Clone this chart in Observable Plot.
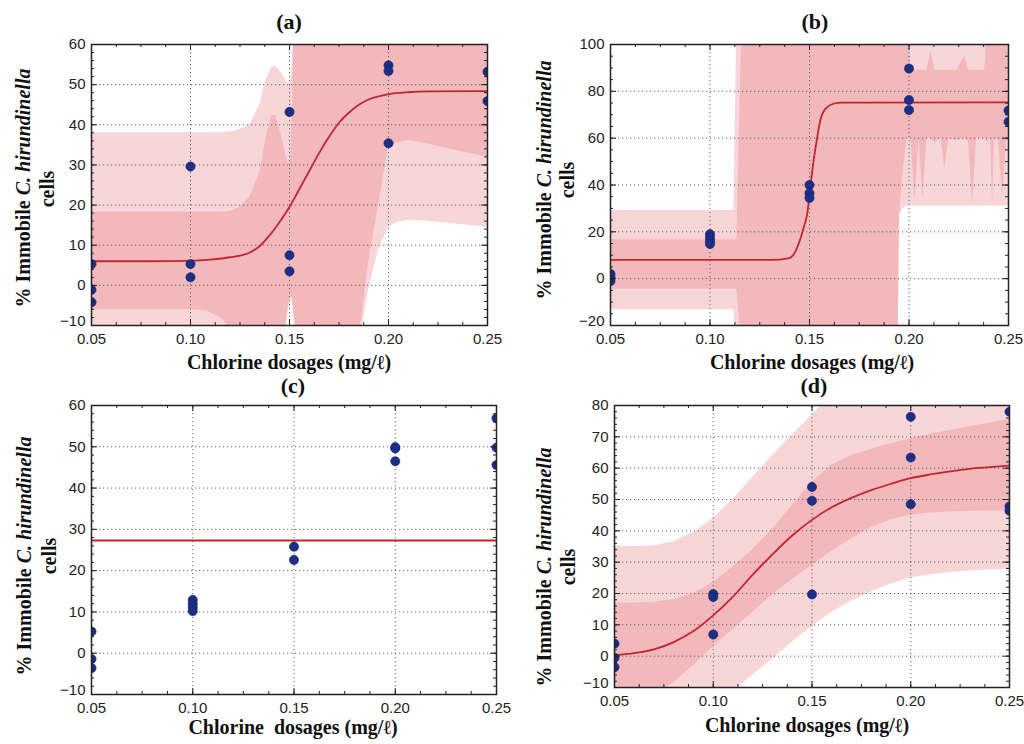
<!DOCTYPE html>
<html><head><meta charset="utf-8">
<script src="https://cdn.jsdelivr.net/npm/d3@7"></script>
<script src="https://cdn.jsdelivr.net/npm/@observablehq/plot@0.6"></script>
<style>
html,body{margin:0;padding:0;background:#fff;}
#chart{position:relative;width:1024px;height:744px;overflow:hidden;background:#fff;}
.panel{position:absolute;width:512px;height:372px;}
.panel svg{overflow:visible;}
</style></head><body><div id="chart"></div>
<script>
// ---------- shared ----------
const doseTicks = [0.05, 0.10, 0.15, 0.20, 0.25];
const panelTitles = ["(a)", "(b)", "(c)", "(d)"];
const xLabels = ["Chlorine dosages (mg/\u2113)", "Chlorine dosages (mg/\u2113)", "Chlorine\u00a0 dosages (mg/\u2113)", "Chlorine dosages (mg/\u2113)"];
const yLabelMain = "% Immobile ";
const yLabelItalic = "C. hirundinella";
const yLabelLine2 = "cells";

// ---------- panel (a) ----------
const aDotX = [0.05,0.05,0.05,0.10,0.10,0.10,0.15,0.15,0.15,0.20,0.20,0.20,0.25,0.25];
const aDotY = [5.3,-1.1,-4.2,29.6,5.3,2.0,43.2,7.5,3.5,54.8,53.4,35.4,53.2,45.9];
const aFitX = [0.05,0.08,0.10,0.11,0.12,0.13,0.135,0.14,0.145,0.15,0.155,0.16,0.165,0.17,0.175,0.18,0.185,0.19,0.20,0.21,0.22,0.25];
const aFitY = [6,6,6.1,6.4,7.0,8.2,9.8,12.5,15.8,19.5,24,28.5,33,37,40.5,43,45,46.3,47.6,48.1,48.3,48.4];
const aBandX   = [0.05,0.10,0.108,0.115,0.12,0.125,0.13,0.135,0.138,0.141,0.143,0.145,0.147,0.149,0.1505,0.1515,0.1525,0.154,0.17,0.186,0.19,0.195,0.2,0.205,0.21,0.22,0.23,0.24,0.25];
const aOuterHi = [38,38,38,38,38.2,38.8,40,45,51,54.3,54.5,53.5,52,50.5,50,56,70,70,70,70,70,70,70,70,70,70,70,70,70];
const aInnerHi = [18.3,18.3,18.3,18.3,18.4,19.5,22,28,36,42.3,42.3,39,35,31,30,45,70,70,70,70,70,70,70,70,70,70,70,70,70];
const aInnerLo = [-6.1,-6.1,-6.3,-8,-10.5,-15,-15,-15,-15,-15,-15,-15,-15,-6,-2.5,-3,-8,-15,-15,-10,6,20,34.5,35.5,36,35.2,34,33,32];
const aOuterLo = [-15,-15,-15,-15,-15,-15,-15,-15,-15,-15,-15,-15,-15,-8,-3.5,-4,-10,-15,-15,-12,-1,9,14.5,15.8,16.2,16,15.5,15,14.5];

// ---------- panel (b) ----------
const bDotX = [0.05,0.05,0.05,0.10,0.10,0.10,0.10,0.15,0.15,0.15,0.20,0.20,0.20,0.25,0.25];
const bDotY = [2.0,0.5,-1.0,19.0,17.5,16.0,14.8,40.0,36.5,34.5,89.7,76.3,72.0,71.8,67.0];
const bFitX = [0.05,0.13,0.14,0.1425,0.145,0.1475,0.149,0.15,0.152,0.154,0.1555,0.158,0.162,0.166,0.25];
const bFitY = [8,8,8.8,11,16,23,28.5,36,50,61,68,72.5,74.7,75.2,75.3];
const bBandX   = [0.05,0.112,0.1135,0.116,0.1945,0.1952,0.197,0.199,0.201,0.203,0.205,0.207,0.209,0.211,0.213,0.216,0.218,0.22,0.224,0.228,0.23,0.232,0.234,0.238,0.2395,0.241,0.242,0.243,0.245,0.247,0.249,0.25];
const bOuterLo = [-13.2,-13.2,-30,-30,-30,27,30,31,31,31,31,31,31,31,31,31,31,31,31,31,31,31,31,31,31,31,31,31,31,31,31,31];
const bOuterHi = [29.1,29.1,110,110,110,110,110,110,110,110,110,110,110,110,110,110,110,110,110,110,110,110,110,110,110,110,110,110,110,110,110,110];
const bInnerLo = [-4.5,-4.5,-4.5,-30,-30,27,45,60,60,33,60,34,60,60,58,60,47,60,59,60,58,31.5,60,60,58,60,31.5,60,59,35,58,60];
const bInnerHi = [16.6,16.6,16.6,110,110,110,110,110,89,89,89,89,89,97,89,89,89,89,89,95,89,89,89,89,110,110,110,110,110,110,110,110];

// ---------- panel (c) ----------
const cDotX = [0.05,0.05,0.05,0.10,0.10,0.10,0.10,0.15,0.15,0.20,0.20,0.20,0.25,0.25,0.25];
const cDotY = [5.25,-1.4,-3.6,12.9,11.95,11.1,10.2,25.8,22.6,49.9,49.6,46.5,56.9,49.8,45.6];
const cFitLevel = [27.3];

// ---------- panel (d) ----------
const dDotX = [0.05,0.05,0.05,0.10,0.10,0.10,0.15,0.15,0.15,0.20,0.20,0.20,0.25,0.25,0.25];
const dDotY = [4.0,-0.5,-3.5,19.8,18.9,6.9,54.0,49.6,19.7,76.4,63.4,48.5,78.0,47.8,46.4];
const dFitX = [0.05,0.06,0.07,0.08,0.09,0.10,0.11,0.12,0.13,0.14,0.15,0.16,0.17,0.18,0.19,0.20,0.21,0.22,0.23,0.24,0.25];
const dFitY = [0.3,1.0,2.2,4.5,8,13,19,26,32.5,38.5,43.5,47.5,50.5,53,55,56.8,58,59,59.8,60.3,60.8];
const dBandX   = dFitX;
const dOuterHi = [35,35,35.2,36.5,39.5,44,50,57,64,70.5,77,83,88,91,93,95,96,97,98,98,98];
const dOuterLo = [-34,-33,-31,-28,-23,-18,-11.5,-6,-1,4.5,9.5,14,17.5,20.5,23,25,26,26.7,27.2,27.5,27.7];
const dInnerHi = [17,17,17.2,18,20,23.5,28.5,34,40.5,48,55.5,61,64,66,67.8,69.4,70.8,72,73.3,74.4,75.5];
const dInnerLo = [-16.5,-15,-12.5,-8.5,-3,3,8.5,14,19.5,24.5,29,33.5,37.5,41,43.5,45,45.7,46,46.2,46.3,46.5];

// ---------- styles ----------
const OUTER = "#f8d6d8", INNER = "#f3b8bc", FIT = "#c0272d", DOT = "#1b2f87";
const SERIF = "'Liberation Serif','Times New Roman',serif";

function buildPanel(o) {
  const W = 512, H = 372;
  const ih = H - o.mt - o.mb, iw = W - o.ml - o.mr;
  const [y0, y1] = o.yDomain;
  const yMinor = d3.range(Math.round((y1 - y0) / o.yMinorStep) + 1).map(i => y0 + i * o.yMinorStep);
  const xMinor = d3.range(17).map(i => 0.05 + i * 0.0125);
  const marks = [];
  if (o.band) {
    const rows = o.band.x.map((x, i) => ({x, olo: o.band.olo[i], ohi: o.band.ohi[i], ilo: o.band.ilo[i], ihi: o.band.ihi[i]}));
    marks.push(Plot.areaY(rows, {x: "x", y1: "olo", y2: "ohi", fill: OUTER, clip: true}));
    marks.push(Plot.areaY(rows, {x: "x", y1: "ilo", y2: "ihi", fill: INNER, clip: true}));
  }
  marks.push(Plot.gridX(doseTicks, {stroke: "#555", strokeOpacity: 0.9, strokeDasharray: "1.2,2.8"}));
  marks.push(Plot.gridY(o.yTicks, {stroke: "#555", strokeOpacity: 0.9, strokeDasharray: "1.2,2.8"}));
  if (o.fit) {
    const rows = o.fit.x.map((x, i) => ({x, y: o.fit.y[i]}));
    marks.push(Plot.line(rows, {x: "x", y: "y", stroke: FIT, strokeWidth: 1.8, curve: "monotone-x", clip: true}));
  }
  if (o.flat) marks.push(Plot.ruleY(o.flat, {stroke: FIT, strokeWidth: 1.8}));
  const dots = o.dots.x.map((x, i) => ({x, y: o.dots.y[i]}));
  marks.push(Plot.dot(dots, {x: "x", y: "y", r: 4.6, fill: DOT, stroke: "#13236b", strokeWidth: 0.6, clip: true}));
  marks.push(Plot.frame({stroke: "#222", strokeWidth: 1.5}));
  const tk = {stroke: "#222", strokeWidth: 1};
  marks.push(Plot.ruleX(doseTicks, {...tk, insetTop: ih - 6}));
  marks.push(Plot.ruleX(doseTicks, {...tk, insetBottom: ih - 6}));
  marks.push(Plot.ruleX(xMinor, {...tk, insetTop: ih - 3}));
  marks.push(Plot.ruleX(xMinor, {...tk, insetBottom: ih - 3}));
  marks.push(Plot.ruleY(o.yTicks, {...tk, insetRight: iw - 6}));
  marks.push(Plot.ruleY(o.yTicks, {...tk, insetLeft: iw - 6}));
  marks.push(Plot.ruleY(yMinor, {...tk, insetRight: iw - 3}));
  marks.push(Plot.ruleY(yMinor, {...tk, insetLeft: iw - 3}));
  marks.push(Plot.axisX(doseTicks, {tickFormat: d3.format(".2f"), tickSize: 0, tickPadding: 8, label: null}));
  marks.push(Plot.axisY(o.yTicks.slice(1), {tickSize: 0, tickPadding: 6, label: null}));
  marks.push(Plot.axisY(o.yTicks.slice(0, 1), {tickSize: 0, tickPadding: 6, label: null, dy: -4}));

  const svg = Plot.plot({
    width: W, height: H,
    marginLeft: o.ml, marginRight: o.mr, marginTop: o.mt, marginBottom: o.mb,
    x: {domain: [0.05, 0.25]},
    y: {domain: o.yDomain},
    style: {fontFamily: "'Liberation Sans', Arial, sans-serif", fontSize: "15px", color: "#222", background: "transparent", overflow: "visible"},
    marks
  });
  const s = d3.select(svg);
  s.append("text").attr("x", o.title[0]).attr("y", o.title[1]).attr("text-anchor", "middle")
    .attr("font-family", SERIF).attr("font-weight", "bold").attr("font-size", 22).attr("fill", "#111").text(o.titleText);
  s.append("text").attr("x", o.xlab[0]).attr("y", o.xlab[1]).attr("text-anchor", "middle")
    .attr("font-family", SERIF).attr("font-weight", "bold").attr("font-size", 20).attr("fill", "#111")
    .style("white-space", "pre").text(o.xlabText);
  const t1 = s.append("text").attr("transform", `translate(${o.yl1[0]},${o.yl1[1]}) rotate(-90)`).attr("dy", "0.35em")
    .attr("text-anchor", "middle").attr("font-family", SERIF).attr("font-weight", "bold").attr("font-size", 20).attr("fill", "#111");
  t1.append("tspan").text(yLabelMain);
  t1.append("tspan").attr("font-style", "italic").text(yLabelItalic);
  s.append("text").attr("transform", `translate(${o.yl2[0]},${o.yl2[1]}) rotate(-90)`).attr("dy", "0.35em")
    .attr("text-anchor", "middle").attr("font-family", SERIF).attr("font-weight", "bold").attr("font-size", 20).attr("fill", "#111").text(yLabelLine2);

  const div = document.createElement("div");
  div.className = "panel";
  div.style.left = o.left + "px";
  div.style.top = o.top + "px";
  div.appendChild(svg);
  document.getElementById("chart").appendChild(div);
}

buildPanel({
  left: 0, top: 0, ml: 91, mr: 25, mt: 44, mb: 47,
  yDomain: [-10, 60], yTicks: [-10,0,10,20,30,40,50,60], yMinorStep: 2,
  band: {x: aBandX, olo: aOuterLo, ohi: aOuterHi, ilo: aInnerLo, ihi: aInnerHi},
  fit: {x: aFitX, y: aFitY}, dots: {x: aDotX, y: aDotY},
  titleText: panelTitles[0], title: [289, 29], xlabText: xLabels[0], xlab: [289, 369],
  yl1: [23, 188], yl2: [47, 189]
});
buildPanel({
  left: 512, top: 0, ml: 98, mr: 16, mt: 44, mb: 47,
  yDomain: [-20, 100], yTicks: [-20,0,20,40,60,80,100], yMinorStep: 5,
  band: {x: bBandX, olo: bOuterLo, ohi: bOuterHi, ilo: bInnerLo, ihi: bInnerHi},
  fit: {x: bFitX, y: bFitY}, dots: {x: bDotX, y: bDotY},
  titleText: panelTitles[1], title: [303, 29], xlabText: xLabels[1], xlab: [300, 369],
  yl1: [32, 180], yl2: [55, 180]
});
buildPanel({
  left: 0, top: 372, ml: 91, mr: 16, mt: 33, mb: 50,
  yDomain: [-10, 60], yTicks: [-10,0,10,20,30,40,50,60], yMinorStep: 2,
  flat: cFitLevel, dots: {x: cDotX, y: cDotY},
  titleText: panelTitles[2], title: [293, 21], xlabText: xLabels[2], xlab: [293, 362],
  yl1: [24, 184], yl2: [49, 184]
});
buildPanel({
  left: 512, top: 372, ml: 102, mr: 15, mt: 33, mb: 57,
  yDomain: [-10, 80], yTicks: [-10,0,10,20,30,40,50,60,70,80], yMinorStep: 2,
  band: {x: dBandX, olo: dOuterLo, ohi: dOuterHi, ilo: dInnerLo, ihi: dInnerHi},
  fit: {x: dFitX, y: dFitY}, dots: {x: dDotX, y: dDotY},
  titleText: panelTitles[3], title: [302, 21], xlabText: xLabels[3], xlab: [295, 360],
  yl1: [32, 195], yl2: [56, 195]
});
</script></body></html>
